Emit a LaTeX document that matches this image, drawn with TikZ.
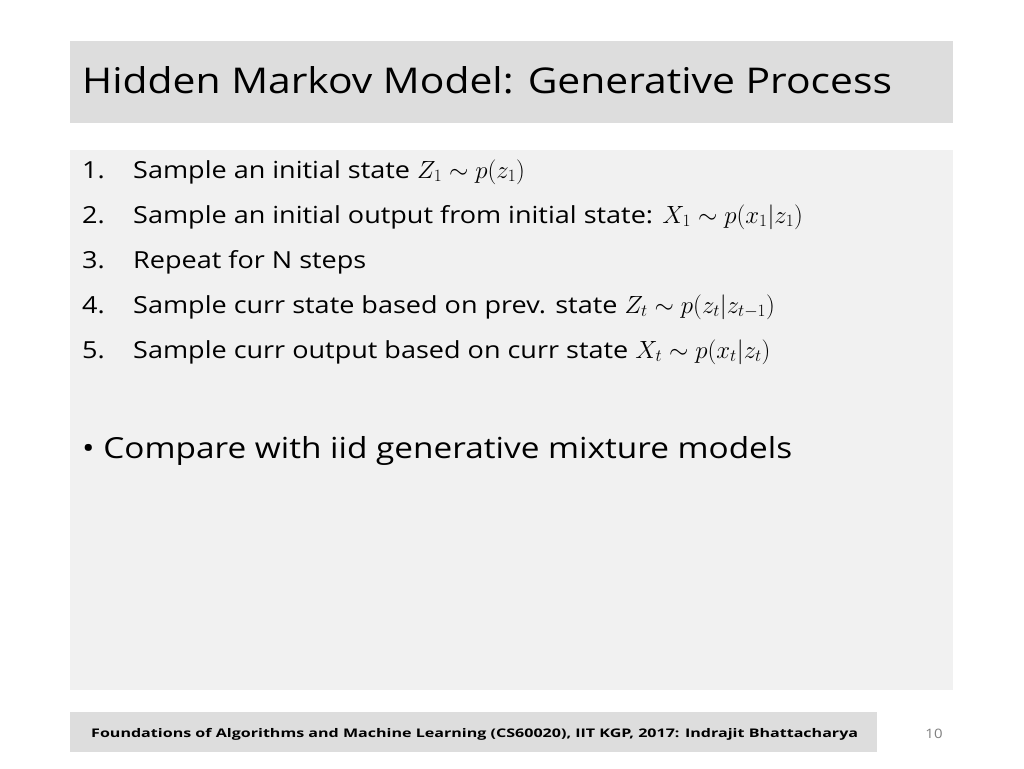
\documentclass[tikz,border=0pt]{standalone}
\usepackage{fontspec}
\setmainfont[FakeStretch=1.15]{Open Sans}
\newfontfamily\footfont[FakeStretch=1.35]{Open Sans}
\begin{document}
\begin{tikzpicture}[x=1pt,y=-1pt,
  item/.style={anchor=base west,font=\fontsize{23.5}{26}\selectfont,inner sep=0pt},
  num/.style={anchor=base west,font=\fontsize{23.5}{26}\selectfont,inner sep=0pt}]
\useasboundingbox[fill=white] (0,0) rectangle (1024,768);
\fill[gray!27] (70,41) rectangle (953,123);
\fill[gray!11] (70,150) rectangle (953,690);
\fill[gray!27] (70,712) rectangle (877,752);
\node[anchor=base west,inner sep=0pt,font=\fontsize{35.5}{38}\selectfont] (title) at (82,93) {Hidden Markov Model: Generative Process};
\node[num] (n1) at (82,178) {1.};
\node[item] (i1) at (133,178) {Sample an initial state $Z_1\sim p(z_1)$};
\node[num] (n2) at (82,223) {2.};
\node[item] (i2) at (133,223) {Sample an initial output from initial state: $X_1\sim p(x_1|z_1)$};
\node[num] (n3) at (82,268) {3.};
\node[item] (i3) at (133,268) {Repeat for N steps};
\node[num] (n4) at (82,313) {4.};
\node[item] (i4) at (133,313) {Sample curr state based on prev. state $Z_t\sim p(z_t|z_{t-1})$};
\node[num] (n5) at (82,358) {5.};
\node[item] (i5) at (133,358) {Sample curr output based on curr state $X_t\sim p(x_t|z_t)$};
\node[anchor=base west,inner sep=0pt,font=\fontsize{29}{32}\selectfont] (b) at (82,458) {\textbullet\ Compare with iid generative mixture models};
\node[anchor=base west,inner sep=0pt,font=\footfont\bfseries\fontsize{11.9}{14}\selectfont] (foot) at (91,737) {Foundations of Algorithms and Machine Learning (CS60020), IIT KGP, 2017: Indrajit Bhattacharya};
\node[anchor=base,inner sep=0pt,text=gray,font=\fontsize{13}{15}\selectfont] (pg) at (934,738) {10};
\end{tikzpicture}
\end{document}
